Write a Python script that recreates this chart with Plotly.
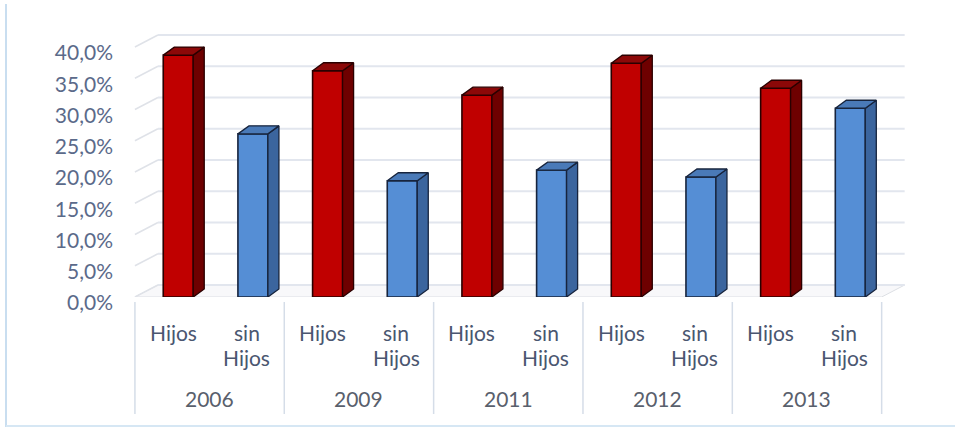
import plotly.graph_objects as go

years = ["2006", "2009", "2011", "2012", "2013"]
series_names = ["Hijos", "sin Hijos"]
hijos = [38.7, 36.2, 32.3, 37.4, 33.4]
sin_hijos = [26.1, 18.6, 20.3, 19.2, 30.2]
tick_vals = [0, 5, 10, 15, 20, 25, 30, 35, 40]
tick_text = ["0,0%", "5,0%", "10,0%", "15,0%", "20,0%", "25,0%", "30,0%", "35,0%", "40,0%"]

# geometry (layout)
W, H = 955, 428
L, R, T, B = 120, 36, 20, 131
PW, PH = W - L - R, H - T - B
XR = [-0.6, 4.75]
YR = [0, PH / 6.25]
PXU = PW / (XR[1] - XR[0])
PYU = PH / (YR[1] - YR[0])

def pxx(p):
    return (p - L) / PW

def pxy(p):
    return (H - B - p) / PH

WALL_DX, WALL_DY = 23 / PXU, 12 / PYU
BAR_DX, BAR_DY = 11 / PXU, 8 / PYU
BW = 30 / PXU
OFFS = [-0.21, 0.29]
LABEL_OFFS = [-0.245, 0.25]

styles = [
    dict(front="#C00000", side="#6E0000", top="#8C0808", line="#2a0000"),
    dict(front="#558ED5", side="#3B659E", top="#4A7AB8", line="#17243d"),
]

fig = go.Figure()
shapes = []

# floor
shapes.append(dict(type="path", xref="x", yref="y", layer="below",
                   path=f"M {-0.5},0 L {-0.5+WALL_DX},{WALL_DY} L {4.5+WALL_DX},{WALL_DY} L 4.5,0 Z",
                   fillcolor="#f8f8fa", line=dict(color="#dcdfe4", width=1)))
# back gridlines + side wall diagonals
for v in tick_vals:
    shapes.append(dict(type="line", xref="x", yref="y", layer="below",
                       x0=-0.5 + WALL_DX, x1=4.5 + WALL_DX, y0=v + WALL_DY, y1=v + WALL_DY,
                       line=dict(color="#e2e6ee", width=2)))
    shapes.append(dict(type="line", xref="x", yref="y", layer="below",
                       x0=-0.5, x1=-0.5 + WALL_DX, y0=v, y1=v + WALL_DY,
                       line=dict(color="#dfe2e8", width=1.5)))

# category dividers
for i in range(len(years) + 1):
    shapes.append(dict(type="line", xref="x", yref="paper",
                       x0=i - 0.5, x1=i - 0.5, y0=pxy(302), y1=pxy(414),
                       line=dict(color="#d5dde8", width=1.5)))
# frame
shapes.append(dict(type="line", xref="paper", yref="paper",
                   x0=pxx(6), x1=pxx(6), y0=pxy(4), y1=pxy(427),
                   line=dict(color="#c9def0", width=2)))
shapes.append(dict(type="line", xref="paper", yref="paper",
                   x0=pxx(6), x1=pxx(955), y0=pxy(426), y1=pxy(426),
                   line=dict(color="#d6e7f4", width=2)))

for s, vals in enumerate([hijos, sin_hijos]):
    st = styles[s]
    xs = [i + OFFS[s] for i in range(len(years))]
    fig.add_trace(go.Bar(x=xs, y=vals, width=BW, marker=dict(color=st["front"], line=dict(color=st["line"], width=1.6)),
                         hoverinfo="skip", showlegend=False))
    for xc, v in zip(xs, vals):
        x0, x1 = xc - BW / 2, xc + BW / 2
        fig.add_trace(go.Scatter(x=[x1, x1, x1 + BAR_DX, x1 + BAR_DX, x1], y=[0, v, v + BAR_DY, BAR_DY, 0],
                                 fill="toself", fillcolor=st["side"], mode="lines",
                                 line=dict(color=st["line"], width=1.3), hoverinfo="skip", showlegend=False))
        fig.add_trace(go.Scatter(x=[x0, x0 + BAR_DX, x1 + BAR_DX, x1, x0], y=[v, v + BAR_DY, v + BAR_DY, v, v],
                                 fill="toself", fillcolor=st["top"], mode="lines",
                                 line=dict(color=st["line"], width=1.3), hoverinfo="skip", showlegend=False))

annotations = []
lab_font = dict(family="Lato", size=21, color="#4a5670")
for i, yr in enumerate(years):
    annotations.append(dict(x=i + LABEL_OFFS[0], y=0, xref="x", yref="paper", text="Hijos",
                            showarrow=False, yanchor="middle", yshift=-35, font=lab_font))
    annotations.append(dict(x=i + LABEL_OFFS[1], y=0, xref="x", yref="paper", text="sin",
                            showarrow=False, yanchor="middle", yshift=-35, font=lab_font))
    annotations.append(dict(x=i + LABEL_OFFS[1], y=0, xref="x", yref="paper", text="Hijos",
                            showarrow=False, yanchor="middle", yshift=-60, font=lab_font))
    annotations.append(dict(x=i, y=0, xref="x", yref="paper", text=yr,
                            showarrow=False, yanchor="middle", yshift=-101, font=dict(family="Lato", size=21, color="#59606c")))

fig.update_layout(
    width=W, height=H,
    margin=dict(l=L, r=R, t=T, b=B),
    paper_bgcolor="white", plot_bgcolor="white",
    barmode="overlay",
    xaxis=dict(range=XR, showgrid=False, zeroline=False, showticklabels=False, fixedrange=True),
    yaxis=dict(range=YR, tickvals=tick_vals, ticktext=tick_text, showgrid=False, zeroline=False,
               ticklabelstandoff=6, ticklabelshift=6,
               tickfont=dict(family="Lato", size=21, color="#5b6a8a"), fixedrange=True),
    shapes=shapes, annotations=annotations,
)

fig.write_html("out.html")
